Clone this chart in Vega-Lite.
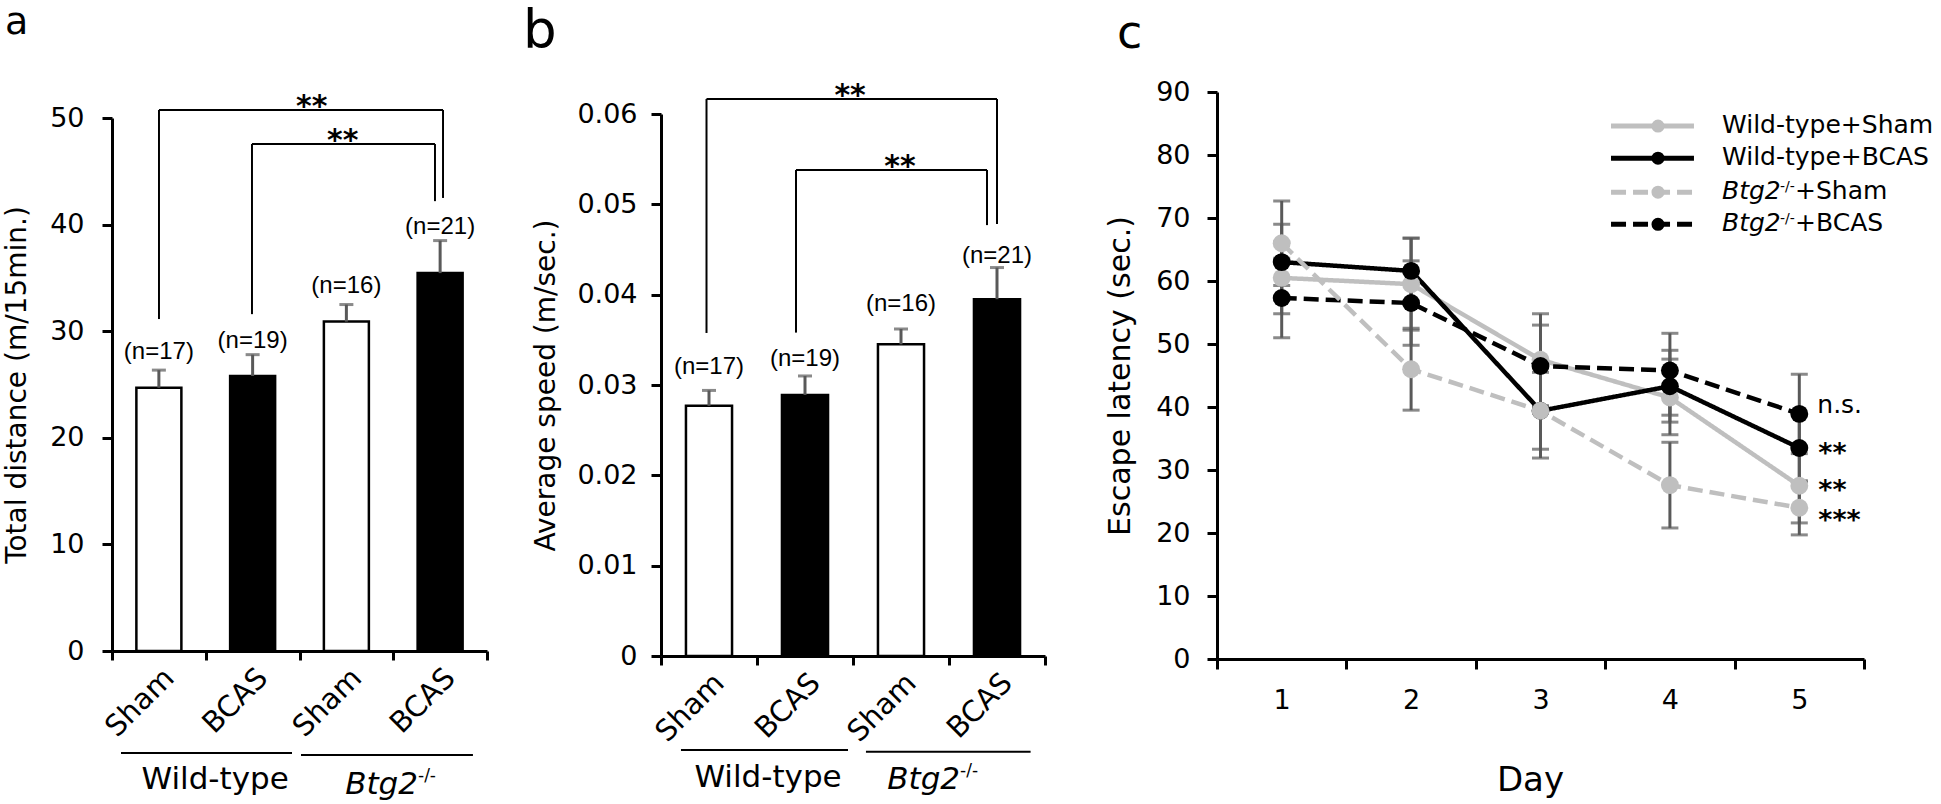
{
  "$schema": "https://vega.github.io/schema/vega-lite/v6.json",
  "padding": {"left": 3, "top": 3, "right": 0, "bottom": 0},
  "config": {
    "view": {"stroke": null},
    "axis": {"domainColor": "black", "domainWidth": 3, "tickColor": "black", "tickWidth": 3, "tickSize": 10, "labelFont": "DejaVu Sans", "labelFontSize": 27, "labelColor": "black", "titleFont": "DejaVu Sans", "titleFontSize": 28, "titleFontWeight": "normal", "titleColor": "black", "grid": false},
    "text": {"font": "DejaVu Sans", "color": "black"}
  },
  "spacing": 34,
  "hconcat": [
    {
      "width": 375, "height": 559,
      "resolve": {"scale": {"x": "independent"}},
      "layer": [
        {
          "data": {"values": [
            {"group": "WT|Sham", "treatment": "Sham", "value": 24.7, "hi": 26.35, "n": "(n=17)", "ny": 27.4},
            {"group": "WT|BCAS", "treatment": "BCAS", "value": 25.8, "hi": 27.8, "n": "(n=19)", "ny": 28.4},
            {"group": "KO|Sham", "treatment": "Sham", "value": 30.9, "hi": 32.5, "n": "(n=16)", "ny": 33.6},
            {"group": "KO|BCAS", "treatment": "BCAS", "value": 35.45, "hi": 38.5, "n": "(n=21)", "ny": 39.1}
          ]},
          "layer": [
            {"mark": {"type": "bar", "width": {"band": 0.48}, "stroke": "black", "strokeWidth": 2.5},
             "encoding": {
               "x": {"field": "group", "type": "nominal", "scale": {"type": "band", "domain": ["WT|Sham", "WT|BCAS", "KO|Sham", "KO|BCAS"], "paddingInner": 0, "paddingOuter": 0}, "axis": {"title": null, "tickBand": "extent", "tickSize": 9, "labelAngle": -45, "labelAlign": "right", "labelBaseline": "top", "labelPadding": 3, "labelFontSize": 29, "labelExpr": "split(datum.label, '|')[1]"}},
               "y": {"field": "value", "type": "quantitative", "scale": {"domain": [0, 50], "range": [559, 26], "nice": false, "zero": false}, "axis": {"values": [0, 10, 20, 30, 40, 50], "format": "d", "title": "Total distance (m/15min.)", "labelPadding": 18, "titlePadding": 18}},
               "fill": {"field": "treatment", "type": "nominal", "scale": {"domain": ["Sham", "BCAS"], "range": ["white", "black"]}, "legend": null}
             }},
            {"mark": {"type": "rule", "color": "#595959", "strokeWidth": 3},
             "encoding": {
               "x": {"field": "group", "type": "nominal", "scale": {"type": "band", "domain": ["WT|Sham", "WT|BCAS", "KO|Sham", "KO|BCAS"], "paddingInner": 0, "paddingOuter": 0}},
               "y": {"field": "value", "type": "quantitative", "scale": {"domain": [0, 50], "range": [559, 26], "nice": false, "zero": false}},
               "y2": {"field": "hi"}
             }},
            {"mark": {"type": "tick", "orient": "horizontal", "size": 14, "thickness": 3, "color": "#595959"},
             "encoding": {
               "x": {"field": "group", "type": "nominal", "scale": {"type": "band", "domain": ["WT|Sham", "WT|BCAS", "KO|Sham", "KO|BCAS"], "paddingInner": 0, "paddingOuter": 0}},
               "y": {"field": "hi", "type": "quantitative", "scale": {"domain": [0, 50], "range": [559, 26], "nice": false, "zero": false}}
             }},
            {"mark": {"type": "text", "font": "Liberation Sans", "fontSize": 24, "align": "center", "baseline": "alphabetic"},
             "encoding": {
               "x": {"field": "group", "type": "nominal", "scale": {"type": "band", "domain": ["WT|Sham", "WT|BCAS", "KO|Sham", "KO|BCAS"], "paddingInner": 0, "paddingOuter": 0}},
               "y": {"field": "ny", "type": "quantitative", "scale": {"domain": [0, 50], "range": [559, 26], "nice": false, "zero": false}},
               "text": {"field": "n"}
             }}
          ]
        },
        {
          "layer": [
            {"data": {"values": [
              {"x": 0.501, "x2": 0.501, "y": 31.14, "y2": 50.75},
              {"x": 0.501, "x2": 3.531, "y": 50.75, "y2": 50.75},
              {"x": 3.531, "x2": 3.531, "y": 50.75, "y2": 42.5},
              {"x": 1.493, "x2": 1.493, "y": 31.6, "y2": 47.56},
              {"x": 1.493, "x2": 3.445, "y": 47.56, "y2": 47.56},
              {"x": 3.445, "x2": 3.445, "y": 47.56, "y2": 42.2},
              {"x": 0.096, "x2": 1.92, "y": -9.57, "y2": -9.57},
              {"x": 2.016, "x2": 3.85, "y": -9.76, "y2": -9.76}
             ]},
             "mark": {"type": "rule", "color": "black", "strokeWidth": 2},
             "encoding": {
               "x": {"field": "x", "type": "quantitative", "scale": {"domain": [0, 4], "range": [0, 375], "nice": false, "zero": false}, "axis": null},
               "x2": {"field": "x2"},
               "y": {"field": "y", "type": "quantitative", "scale": {"domain": [0, 50], "range": [559, 26], "nice": false, "zero": false}},
               "y2": {"field": "y2"}
             }},
            {"data": {"values": [{"x": 2.13, "y": 50.75, "t": "**"}, {"x": 2.46, "y": 47.56, "t": "**"}]},
             "mark": {"type": "text", "fontSize": 30, "fontWeight": "bold", "align": "center", "baseline": "alphabetic", "dy": 6},
             "encoding": {
               "x": {"field": "x", "type": "quantitative", "scale": {"domain": [0, 4], "range": [0, 375], "nice": false, "zero": false}, "axis": null},
               "y": {"field": "y", "type": "quantitative", "scale": {"domain": [0, 50], "range": [559, 26], "nice": false, "zero": false}},
               "text": {"field": "t"}
             }},
            {"data": {"values": [{"x": 1.10, "y": -12.95, "t": "Wild-type"}]},
             "mark": {"type": "text", "fontSize": 31, "align": "center", "baseline": "alphabetic"},
             "encoding": {
               "x": {"field": "x", "type": "quantitative", "scale": {"domain": [0, 4], "range": [0, 375], "nice": false, "zero": false}, "axis": null},
               "y": {"field": "y", "type": "quantitative", "scale": {"domain": [0, 50], "range": [559, 26], "nice": false, "zero": false}},
               "text": {"field": "t"}
             }},
            {"data": {"values": [{"x": 3.264, "y": -13.4, "t": "Btg2"}]},
             "mark": {"type": "text", "fontSize": 31, "fontStyle": "italic", "align": "right", "baseline": "alphabetic"},
             "encoding": {
               "x": {"field": "x", "type": "quantitative", "scale": {"domain": [0, 4], "range": [0, 375], "nice": false, "zero": false}, "axis": null},
               "y": {"field": "y", "type": "quantitative", "scale": {"domain": [0, 50], "range": [559, 26], "nice": false, "zero": false}},
               "text": {"field": "t"}
             }},
            {"data": {"values": [{"x": 3.264, "y": -12.2, "t": "-/-"}]},
             "mark": {"type": "text", "fontSize": 17, "align": "left", "baseline": "alphabetic"},
             "encoding": {
               "x": {"field": "x", "type": "quantitative", "scale": {"domain": [0, 4], "range": [0, 375], "nice": false, "zero": false}, "axis": null},
               "y": {"field": "y", "type": "quantitative", "scale": {"domain": [0, 50], "range": [559, 26], "nice": false, "zero": false}},
               "text": {"field": "t"}
             }},
            {"data": {"values": [{"x": -1.141, "y": 57.88, "t": "a"}]},
             "mark": {"type": "text", "fontSize": 38, "align": "left", "baseline": "alphabetic"},
             "encoding": {
               "x": {"field": "x", "type": "quantitative", "scale": {"domain": [0, 4], "range": [0, 375], "nice": false, "zero": false}, "axis": null},
               "y": {"field": "y", "type": "quantitative", "scale": {"domain": [0, 50], "range": [559, 26], "nice": false, "zero": false}},
               "text": {"field": "t"}
             }}
          ]
        }
      ]
    },
    {
      "width": 410, "height": 564,
      "resolve": {"scale": {"x": "independent"}},
      "layer": [
        {
          "data": {"values": [
            {"group": "WT|Sham", "treatment": "Sham", "value": 0.0277, "hi": 0.0294, "n": "(n=17)", "ny": 0.0312},
            {"group": "WT|BCAS", "treatment": "BCAS", "value": 0.0289, "hi": 0.0310, "n": "(n=19)", "ny": 0.0321},
            {"group": "KO|Sham", "treatment": "Sham", "value": 0.0345, "hi": 0.0362, "n": "(n=16)", "ny": 0.0382},
            {"group": "KO|BCAS", "treatment": "BCAS", "value": 0.0395, "hi": 0.0430, "n": "(n=21)", "ny": 0.0435}
          ]},
          "layer": [
            {"mark": {"type": "bar", "width": {"band": 0.48}, "stroke": "black", "strokeWidth": 2.5},
             "encoding": {
               "x": {"field": "group", "type": "nominal", "scale": {"type": "band", "domain": ["WT|Sham", "WT|BCAS", "KO|Sham", "KO|BCAS"], "range": [0, 384], "paddingInner": 0, "paddingOuter": 0}, "axis": {"title": null, "tickBand": "extent", "tickSize": 9, "labelAngle": -45, "labelAlign": "right", "labelBaseline": "top", "labelPadding": 3, "labelFontSize": 29, "labelExpr": "split(datum.label, '|')[1]"}},
               "y": {"field": "value", "type": "quantitative", "scale": {"domain": [0, 0.06], "range": [564, 22], "nice": false, "zero": false}, "axis": {"values": [0, 0.01, 0.02, 0.03, 0.04, 0.05, 0.06], "labelExpr": "datum.value === 0 ? '0' : format(datum.value, '.2f')", "title": "Average speed (m/sec.)", "labelPadding": 14, "titlePadding": 16}},
               "fill": {"field": "treatment", "type": "nominal", "scale": {"domain": ["Sham", "BCAS"], "range": ["white", "black"]}, "legend": null}
             }},
            {"mark": {"type": "rule", "color": "#595959", "strokeWidth": 3},
             "encoding": {
               "x": {"field": "group", "type": "nominal", "scale": {"type": "band", "domain": ["WT|Sham", "WT|BCAS", "KO|Sham", "KO|BCAS"], "range": [0, 384], "paddingInner": 0, "paddingOuter": 0}},
               "y": {"field": "value", "type": "quantitative", "scale": {"domain": [0, 0.06], "range": [564, 22], "nice": false, "zero": false}},
               "y2": {"field": "hi"}
             }},
            {"mark": {"type": "tick", "orient": "horizontal", "size": 14, "thickness": 3, "color": "#595959"},
             "encoding": {
               "x": {"field": "group", "type": "nominal", "scale": {"type": "band", "domain": ["WT|Sham", "WT|BCAS", "KO|Sham", "KO|BCAS"], "range": [0, 384], "paddingInner": 0, "paddingOuter": 0}},
               "y": {"field": "hi", "type": "quantitative", "scale": {"domain": [0, 0.06], "range": [564, 22], "nice": false, "zero": false}}
             }},
            {"mark": {"type": "text", "font": "Liberation Sans", "fontSize": 24, "align": "center", "baseline": "alphabetic"},
             "encoding": {
               "x": {"field": "group", "type": "nominal", "scale": {"type": "band", "domain": ["WT|Sham", "WT|BCAS", "KO|Sham", "KO|BCAS"], "range": [0, 384], "paddingInner": 0, "paddingOuter": 0}},
               "y": {"field": "ny", "type": "quantitative", "scale": {"domain": [0, 0.06], "range": [564, 22], "nice": false, "zero": false}},
               "text": {"field": "n"}
             }}
          ]
        },
        {
          "layer": [
            {"data": {"values": [
              {"x": 0.474, "x2": 0.474, "y": 0.03576, "y2": 0.06166},
              {"x": 0.474, "x2": 3.5, "y": 0.06166, "y2": 0.06166},
              {"x": 3.5, "x2": 3.5, "y": 0.06166, "y2": 0.04783},
              {"x": 1.406, "x2": 1.406, "y": 0.0358, "y2": 0.0538},
              {"x": 1.406, "x2": 3.396, "y": 0.0538, "y2": 0.0538},
              {"x": 3.396, "x2": 3.396, "y": 0.0538, "y2": 0.0477},
              {"x": 0.208, "x2": 1.948, "y": -0.0104, "y2": -0.0104},
              {"x": 2.135, "x2": 3.85, "y": -0.0106, "y2": -0.0106}
             ]},
             "mark": {"type": "rule", "color": "black", "strokeWidth": 2},
             "encoding": {
               "x": {"field": "x", "type": "quantitative", "scale": {"domain": [0, 4], "range": [0, 384], "nice": false, "zero": false}, "axis": null},
               "x2": {"field": "x2"},
               "y": {"field": "y", "type": "quantitative", "scale": {"domain": [0, 0.06], "range": [564, 22], "nice": false, "zero": false}},
               "y2": {"field": "y2"}
             }},
            {"data": {"values": [{"x": 1.97, "y": 0.06166, "t": "**"}, {"x": 2.49, "y": 0.0538, "t": "**"}]},
             "mark": {"type": "text", "fontSize": 30, "fontWeight": "bold", "align": "center", "baseline": "alphabetic", "dy": 6},
             "encoding": {
               "x": {"field": "x", "type": "quantitative", "scale": {"domain": [0, 4], "range": [0, 384], "nice": false, "zero": false}, "axis": null},
               "y": {"field": "y", "type": "quantitative", "scale": {"domain": [0, 0.06], "range": [564, 22], "nice": false, "zero": false}},
               "text": {"field": "t"}
             }},
            {"data": {"values": [{"x": 1.115, "y": -0.0145, "t": "Wild-type"}]},
             "mark": {"type": "text", "fontSize": 31, "align": "center", "baseline": "alphabetic"},
             "encoding": {
               "x": {"field": "x", "type": "quantitative", "scale": {"domain": [0, 4], "range": [0, 384], "nice": false, "zero": false}, "axis": null},
               "y": {"field": "y", "type": "quantitative", "scale": {"domain": [0, 0.06], "range": [564, 22], "nice": false, "zero": false}},
               "text": {"field": "t"}
             }},
            {"data": {"values": [{"x": 3.115, "y": -0.0147, "t": "Btg2"}]},
             "mark": {"type": "text", "fontSize": 31, "fontStyle": "italic", "align": "right", "baseline": "alphabetic"},
             "encoding": {
               "x": {"field": "x", "type": "quantitative", "scale": {"domain": [0, 4], "range": [0, 384], "nice": false, "zero": false}, "axis": null},
               "y": {"field": "y", "type": "quantitative", "scale": {"domain": [0, 0.06], "range": [564, 22], "nice": false, "zero": false}},
               "text": {"field": "t"}
             }},
            {"data": {"values": [{"x": 3.115, "y": -0.0133, "t": "-/-"}]},
             "mark": {"type": "text", "fontSize": 17, "align": "left", "baseline": "alphabetic"},
             "encoding": {
               "x": {"field": "x", "type": "quantitative", "scale": {"domain": [0, 4], "range": [0, 384], "nice": false, "zero": false}, "axis": null},
               "y": {"field": "y", "type": "quantitative", "scale": {"domain": [0, 0.06], "range": [564, 22], "nice": false, "zero": false}},
               "text": {"field": "t"}
             }},
            {"data": {"values": [{"x": -1.4375, "y": 0.0673, "t": "b"}]},
             "mark": {"type": "text", "fontSize": 53, "align": "left", "baseline": "alphabetic"},
             "encoding": {
               "x": {"field": "x", "type": "quantitative", "scale": {"domain": [0, 4], "range": [0, 384], "nice": false, "zero": false}, "axis": null},
               "y": {"field": "y", "type": "quantitative", "scale": {"domain": [0, 0.06], "range": [564, 22], "nice": false, "zero": false}},
               "text": {"field": "t"}
             }}
          ]
        }
      ]
    },
    {
      "width": 647, "height": 567,
      "layer": [
        {
          "data": {"values": [
            {"day": 1, "series": "Wild-type+Sham", "mean": 60.5, "lo": 54.8, "hi": 66.2},
            {"day": 1, "series": "Wild-type+BCAS", "mean": 63.0, "lo": 57.0, "hi": 69.0},
            {"day": 1, "series": "Btg2-/-+BCAS", "mean": 57.3, "lo": 51.0, "hi": 63.6},
            {"day": 1, "series": "Btg2-/-+Sham", "mean": 66.0, "lo": 59.3, "hi": 72.7},
            {"day": 2, "series": "Wild-type+Sham", "mean": 59.5, "lo": 52.2, "hi": 66.8},
            {"day": 2, "series": "Wild-type+BCAS", "mean": 61.6, "lo": 56.4, "hi": 66.8},
            {"day": 2, "series": "Btg2-/-+BCAS", "mean": 56.5, "lo": 49.8, "hi": 63.2},
            {"day": 2, "series": "Btg2-/-+Sham", "mean": 46.0, "lo": 39.5, "hi": 52.5},
            {"day": 3, "series": "Wild-type+Sham", "mean": 47.5, "lo": 40.2, "hi": 54.8},
            {"day": 3, "series": "Wild-type+BCAS", "mean": 39.4, "lo": 31.9, "hi": 46.9},
            {"day": 3, "series": "Btg2-/-+BCAS", "mean": 46.5, "lo": 40.0, "hi": 53.0},
            {"day": 3, "series": "Btg2-/-+Sham", "mean": 39.4, "lo": 33.3, "hi": 45.5},
            {"day": 4, "series": "Wild-type+Sham", "mean": 41.5, "lo": 35.6, "hi": 47.6},
            {"day": 4, "series": "Wild-type+BCAS", "mean": 43.3, "lo": 37.6, "hi": 49.0},
            {"day": 4, "series": "Btg2-/-+BCAS", "mean": 45.8, "lo": 38.7, "hi": 51.7},
            {"day": 4, "series": "Btg2-/-+Sham", "mean": 27.6, "lo": 20.8, "hi": 34.4},
            {"day": 5, "series": "Wild-type+Sham", "mean": 27.5, "lo": 21.6, "hi": 33.4},
            {"day": 5, "series": "Wild-type+BCAS", "mean": 33.5, "lo": 28.1, "hi": 38.9},
            {"day": 5, "series": "Btg2-/-+BCAS", "mean": 38.9, "lo": 32.6, "hi": 45.2},
            {"day": 5, "series": "Btg2-/-+Sham", "mean": 24.0, "lo": 19.7, "hi": 28.3}
          ]},
          "layer": [
            {"mark": {"type": "rule", "color": "#595959", "strokeWidth": 3},
             "encoding": {
               "x": {"field": "day", "type": "quantitative", "scale": {"domain": [0.5, 5.5], "nice": false, "zero": false}, "axis": {"title": "Day", "titleFontSize": 34, "titlePadding": 50, "titleX": 313, "values": [0.5, 1, 1.5, 2, 2.5, 3, 3.5, 4, 4.5, 5, 5.5], "labelExpr": "datum.value % 1 === 0 ? format(datum.value, 'd') : ''", "tickOpacity": {"condition": {"test": "datum.value % 1 === 0", "value": 0}, "value": 1}, "labelOverlap": false, "labelFlush": false, "labelBound": false, "labelPadding": 18}},
               "y": {"field": "lo", "type": "quantitative", "scale": {"domain": [0, 90], "nice": false, "zero": false}, "axis": {"values": [0, 10, 20, 30, 40, 50, 60, 70, 80, 90], "title": "Escape latency (sec.)", "titleFontSize": 30, "labelPadding": 17, "titlePadding": 20}},
               "y2": {"field": "hi"}
             }},
            {"mark": {"type": "tick", "orient": "horizontal", "size": 17, "thickness": 3, "color": "#595959"},
             "encoding": {
               "x": {"field": "day", "type": "quantitative", "scale": {"domain": [0.5, 5.5], "nice": false, "zero": false}},
               "y": {"field": "lo", "type": "quantitative", "scale": {"domain": [0, 90], "nice": false, "zero": false}}
             }},
            {"mark": {"type": "tick", "orient": "horizontal", "size": 17, "thickness": 3, "color": "#595959"},
             "encoding": {
               "x": {"field": "day", "type": "quantitative", "scale": {"domain": [0.5, 5.5], "nice": false, "zero": false}},
               "y": {"field": "hi", "type": "quantitative", "scale": {"domain": [0, 90], "nice": false, "zero": false}}
             }},
            {"mark": {"type": "line", "strokeWidth": 4.5},
             "encoding": {
               "x": {"field": "day", "type": "quantitative", "scale": {"domain": [0.5, 5.5], "nice": false, "zero": false}},
               "y": {"field": "mean", "type": "quantitative", "scale": {"domain": [0, 90], "nice": false, "zero": false}},
               "color": {"field": "series", "type": "nominal", "scale": {"domain": ["Wild-type+Sham", "Wild-type+BCAS", "Btg2-/-+Sham", "Btg2-/-+BCAS"], "range": ["#bfbfbf", "#000000", "#bfbfbf", "#000000"]}, "legend": null},
               "strokeDash": {"field": "series", "type": "nominal", "scale": {"domain": ["Wild-type+Sham", "Wild-type+BCAS", "Btg2-/-+Sham", "Btg2-/-+BCAS"], "range": [[1, 0], [1, 0], [15, 7], [15, 7]]}, "legend": null}
             }},
            {"mark": {"type": "point", "filled": true, "size": 320, "opacity": 1, "shape": "circle"},
             "encoding": {
               "x": {"field": "day", "type": "quantitative", "scale": {"domain": [0.5, 5.5], "nice": false, "zero": false}},
               "y": {"field": "mean", "type": "quantitative", "scale": {"domain": [0, 90], "nice": false, "zero": false}},
               "color": {"field": "series", "type": "nominal", "scale": {"domain": ["Wild-type+Sham", "Wild-type+BCAS", "Btg2-/-+Sham", "Btg2-/-+BCAS"], "range": ["#bfbfbf", "#000000", "#bfbfbf", "#000000"]}, "legend": null}
             }}
          ]
        },
        {
          "data": {"values": [
            {"series": "Wild-type+Sham", "ly": 84.6},
            {"series": "Wild-type+BCAS", "ly": 79.5},
            {"series": "Btg2-/-+Sham", "ly": 74.1},
            {"series": "Btg2-/-+BCAS", "ly": 69.0}
          ]},
          "layer": [
            {"mark": {"type": "rule", "strokeWidth": 5},
             "encoding": {
               "x": {"datum": 3.545, "type": "quantitative", "scale": {"domain": [0.5, 5.5], "nice": false, "zero": false}},
               "x2": {"datum": 4.186},
               "y": {"field": "ly", "type": "quantitative", "scale": {"domain": [0, 90], "nice": false, "zero": false}},
               "color": {"field": "series", "type": "nominal", "scale": {"domain": ["Wild-type+Sham", "Wild-type+BCAS", "Btg2-/-+Sham", "Btg2-/-+BCAS"], "range": ["#bfbfbf", "#000000", "#bfbfbf", "#000000"]}, "legend": null},
               "strokeDash": {"field": "series", "type": "nominal", "scale": {"domain": ["Wild-type+Sham", "Wild-type+BCAS", "Btg2-/-+Sham", "Btg2-/-+BCAS"], "range": [[1, 0], [1, 0], [15, 7], [15, 7]]}, "legend": null}
             }},
            {"mark": {"type": "point", "filled": true, "size": 170, "opacity": 1, "shape": "circle"},
             "encoding": {
               "x": {"datum": 3.908, "type": "quantitative", "scale": {"domain": [0.5, 5.5], "nice": false, "zero": false}},
               "y": {"field": "ly", "type": "quantitative", "scale": {"domain": [0, 90], "nice": false, "zero": false}},
               "color": {"field": "series", "type": "nominal", "scale": {"domain": ["Wild-type+Sham", "Wild-type+BCAS", "Btg2-/-+Sham", "Btg2-/-+BCAS"], "range": ["#bfbfbf", "#000000", "#bfbfbf", "#000000"]}, "legend": null}
             }}
          ]
        },
        {"data": {"values": [{"t": "Wild-type+Sham", "ly": 84.6}, {"t": "Wild-type+BCAS", "ly": 79.5}]},
         "mark": {"type": "text", "fontSize": 25, "align": "left", "baseline": "alphabetic", "dy": 7},
         "encoding": {
           "x": {"datum": 4.403, "type": "quantitative", "scale": {"domain": [0.5, 5.5], "nice": false, "zero": false}},
           "y": {"field": "ly", "type": "quantitative", "scale": {"domain": [0, 90], "nice": false, "zero": false}},
           "text": {"field": "t"}
         }},
        {"data": {"values": [{"t": "Btg2", "ly": 74.1}, {"t": "Btg2", "ly": 69.0}]},
         "mark": {"type": "text", "fontSize": 25, "fontStyle": "italic", "align": "left", "baseline": "alphabetic", "dy": 7},
         "encoding": {
           "x": {"datum": 4.403, "type": "quantitative", "scale": {"domain": [0.5, 5.5], "nice": false, "zero": false}},
           "y": {"field": "ly", "type": "quantitative", "scale": {"domain": [0, 90], "nice": false, "zero": false}},
           "text": {"field": "t"}
         }},
        {"data": {"values": [{"t": "-/-", "ly": 74.1}, {"t": "-/-", "ly": 69.0}]},
         "mark": {"type": "text", "fontSize": 14, "align": "left", "baseline": "alphabetic", "dy": -1},
         "encoding": {
           "x": {"datum": 4.851, "type": "quantitative", "scale": {"domain": [0.5, 5.5], "nice": false, "zero": false}},
           "y": {"field": "ly", "type": "quantitative", "scale": {"domain": [0, 90], "nice": false, "zero": false}},
           "text": {"field": "t"}
         }},
        {"data": {"values": [{"t": "+Sham", "ly": 74.1}, {"t": "+BCAS", "ly": 69.0}]},
         "mark": {"type": "text", "fontSize": 25, "align": "left", "baseline": "alphabetic", "dy": 7},
         "encoding": {
           "x": {"datum": 4.967, "type": "quantitative", "scale": {"domain": [0.5, 5.5], "nice": false, "zero": false}},
           "y": {"field": "ly", "type": "quantitative", "scale": {"domain": [0, 90], "nice": false, "zero": false}},
           "text": {"field": "t"}
         }},
        {"data": {"values": [{"day": 5, "y": 39.0, "t": "n.s."}]},
         "mark": {"type": "text", "fontSize": 25, "align": "left", "baseline": "alphabetic", "dx": 18},
         "encoding": {
           "x": {"field": "day", "type": "quantitative", "scale": {"domain": [0.5, 5.5], "nice": false, "zero": false}},
           "y": {"field": "y", "type": "quantitative", "scale": {"domain": [0, 90], "nice": false, "zero": false}},
           "text": {"field": "t"}
         }},
        {"data": {"values": [{"day": 5, "y": 31.2, "t": "**"}, {"day": 5, "y": 25.4, "t": "**"}, {"day": 5, "y": 20.6, "t": "***"}]},
         "mark": {"type": "text", "fontSize": 27, "fontWeight": "bold", "align": "left", "baseline": "alphabetic", "dx": 19},
         "encoding": {
           "x": {"field": "day", "type": "quantitative", "scale": {"domain": [0.5, 5.5], "nice": false, "zero": false}},
           "y": {"field": "y", "type": "quantitative", "scale": {"domain": [0, 90], "nice": false, "zero": false}},
           "text": {"field": "t"}
         }},
        {"data": {"values": [{"x": -0.273, "y": 97.0, "t": "c"}]},
         "mark": {"type": "text", "fontSize": 46, "align": "left", "baseline": "alphabetic"},
         "encoding": {
           "x": {"field": "x", "type": "quantitative", "scale": {"domain": [0.5, 5.5], "nice": false, "zero": false}},
           "y": {"field": "y", "type": "quantitative", "scale": {"domain": [0, 90], "nice": false, "zero": false}},
           "text": {"field": "t"}
         }}
      ]
    }
  ]
}
